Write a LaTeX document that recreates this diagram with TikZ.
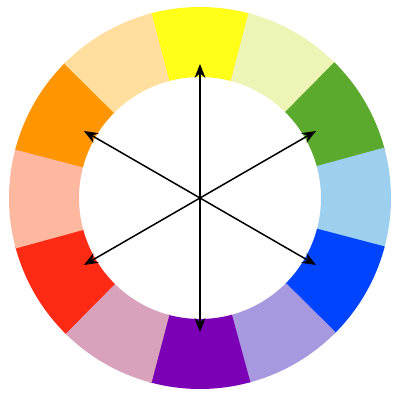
\documentclass[tikz,border=0pt]{standalone}
\usetikzlibrary{arrows.meta}

\definecolor{cyellow}{HTML}{FFFF1A}
\definecolor{cpaleyg}{HTML}{EEF4B6}
\definecolor{cgreen}{HTML}{5BAA2E}
\definecolor{cskyblue}{HTML}{9DD0EE}
\definecolor{cblue}{HTML}{0044FF}
\definecolor{clavender}{HTML}{A898E0}
\definecolor{cpurple}{HTML}{7B00B5}
\definecolor{cmauve}{HTML}{D9A2BC}
\definecolor{cred}{HTML}{FF2A14}
\definecolor{csalmon}{HTML}{FFB8A0}
\definecolor{corange}{HTML}{FF9500}
\definecolor{cpeach}{HTML}{FFDE9E}

\begin{document}
\begin{tikzpicture}[
    arrow/.style={{Stealth[length=14pt,width=11pt]}-{Stealth[length=14pt,width=11pt]}, line width=1.5pt}
]
    \fill[white] (-200pt,-195pt) rectangle (194pt,198pt);
    \useasboundingbox (-200pt,-195pt) rectangle (194pt,198pt);

    \foreach \a/\c in {90/cyellow, 60/cpaleyg, 30/cgreen, 0/cskyblue,
                       -30/cblue, -60/clavender, -90/cpurple, -120/cmauve,
                       -150/cred, -180/csalmon, -210/corange, -240/cpeach}
        \fill[\c] (\a-15.3:191pt) arc[start angle=\a-15.3, end angle=\a+15.3, radius=191pt]
            -- (\a+15.3:121pt) arc[start angle=\a+15.3, end angle=\a-15.3, radius=121pt] -- cycle;

    \coordinate (o) at (0,0);
    \coordinate (n) at (90:134pt);
    \coordinate (s) at (-90:134pt);
    \coordinate (ne) at (30:134pt);
    \coordinate (sw) at (210:134pt);
    \coordinate (nw) at (150:134pt);
    \coordinate (se) at (-30:134pt);

    \draw[arrow] (s) -- (n);
    \draw[arrow] (sw) -- (ne);
    \draw[arrow] (se) -- (nw);
\end{tikzpicture}
\end{document}
